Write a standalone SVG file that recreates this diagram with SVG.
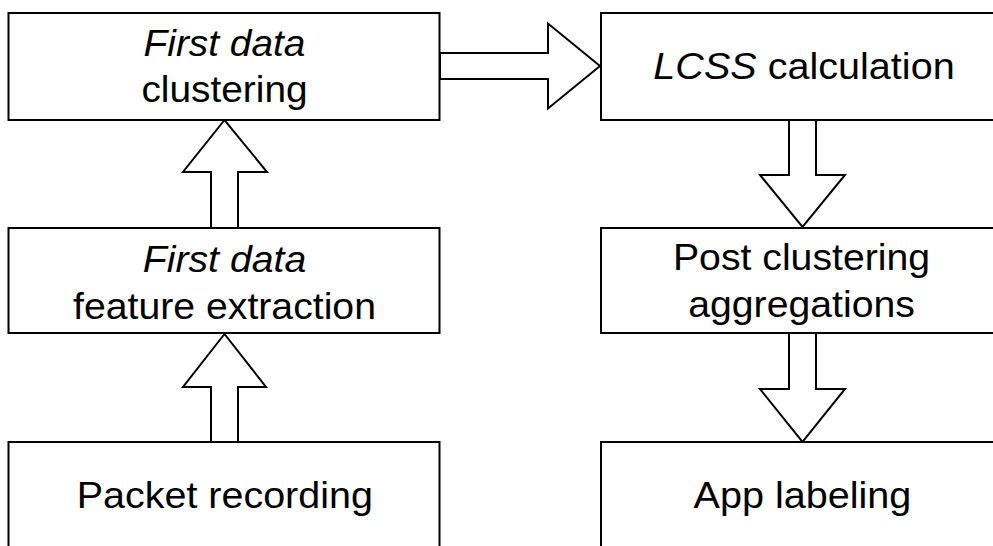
<svg xmlns="http://www.w3.org/2000/svg" width="993" height="546" viewBox="0 0 993 546">
<style>
.box{fill:#fff;stroke:#000;stroke-width:2}
.arr{fill:#fff;stroke:#000;stroke-width:2;stroke-linejoin:miter}
text{font-family:"Liberation Sans",Arial,Helvetica,sans-serif;font-size:37px;fill:#000;text-anchor:middle}
.it{font-style:italic}
</style>
<rect width="993" height="546" fill="#fff"/>
<g id="connectors">
<path class="arr" d="M440,53 H548 V23.5 L600,66 L548,108.5 V79 H440 Z"/>
<path class="arr" d="M211,228 V172 H183 L224.5,120 L267,172 H238 V228 Z"/>
<path class="arr" d="M211,442 V387 H183 L224.5,334 L266,387 H238 V442 Z"/>
<path class="arr" d="M789,120 V175 H760 L802.5,227 L845,175 H816 V120 Z"/>
<path class="arr" d="M789,333 V389 H760 L802.5,442 L845,389 H816 V333 Z"/>
</g>
<g id="node-first-data-clustering">
<rect class="box" x="8.5" y="13" width="431" height="107"/>
<g transform="translate(224.5,0) scale(1.05,1)">
<text x="0" y="56" class="it">First data</text>
<text x="0" y="102">clustering</text>
</g>
</g>
<g id="node-lcss-calculation">
<rect class="box" x="601" y="13" width="420" height="107"/>
<g transform="translate(804,0) scale(1.07,1)">
<text x="0" y="79.5"><tspan class="it">LCSS</tspan> calculation</text>
</g>
</g>
<g id="node-first-data-feature-extraction">
<rect class="box" x="8.5" y="228" width="431" height="105"/>
<g transform="translate(224.5,0) scale(1.06,1)">
<text x="0" y="272" class="it">First data</text>
<text x="0" y="319">feature extraction</text>
</g>
</g>
<g id="node-post-clustering-aggregations">
<rect class="box" x="601" y="228" width="420" height="105"/>
<g transform="translate(801.5,0) scale(1.06,1)">
<text x="0" y="270.5">Post clustering</text>
<text x="0" y="317.5">aggregations</text>
</g>
</g>
<g id="node-packet-recording">
<rect class="box" x="8.5" y="442" width="431" height="130"/>
<g transform="translate(224.8,0) scale(1.067,1)">
<text x="0" y="508">Packet recording</text>
</g>
</g>
<g id="node-app-labeling">
<rect class="box" x="601" y="442" width="420" height="130"/>
<g transform="translate(802.4,0) scale(1.07,1)">
<text x="0" y="508">App labeling</text>
</g>
</g>
</svg>
